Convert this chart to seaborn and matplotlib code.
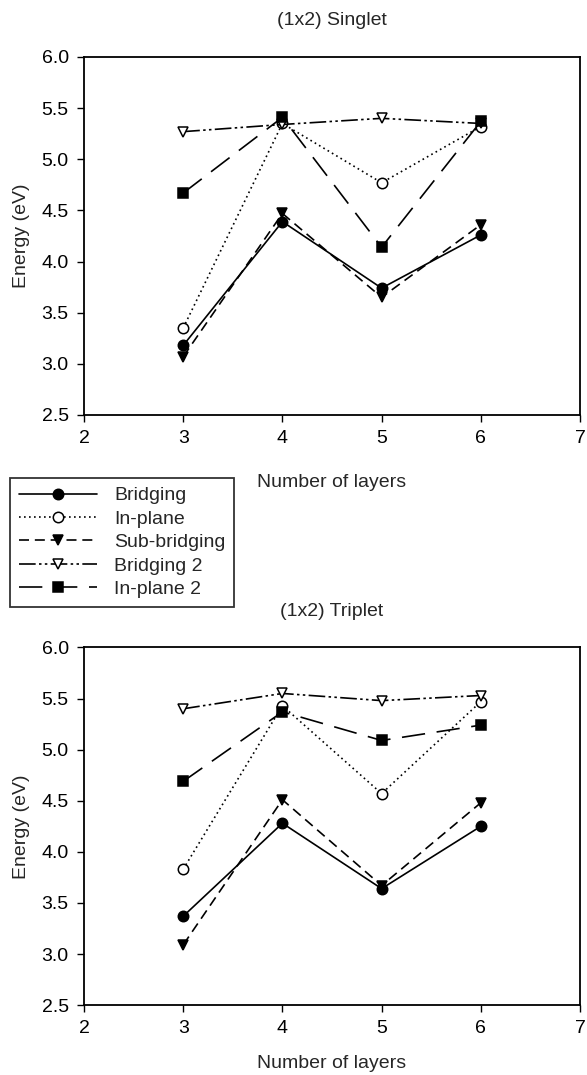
import numpy as np
import matplotlib
matplotlib.use("Agg")
import matplotlib.pyplot as plt
import seaborn as sns

layers = [3, 4, 5, 6]
series_names = ["Bridging", "In-plane", "Sub-bridging", "Bridging 2", "In-plane 2"]

# (1x2) Singlet energies (eV)
singlet_bridging = [3.18, 4.39, 3.74, 4.26]
singlet_inplane = [3.35, 5.35, 4.77, 5.32]
singlet_subbridging = [3.07, 4.47, 3.65, 4.36]
singlet_bridging2 = [5.27, 5.34, 5.40, 5.35]
singlet_inplane2 = [4.67, 5.41, 4.14, 5.37]

# (1x2) Triplet energies (eV)
triplet_bridging = [3.37, 4.28, 3.64, 4.25]
triplet_inplane = [3.83, 5.43, 4.57, 5.47]
triplet_subbridging = [3.09, 4.51, 3.67, 4.48]
triplet_bridging2 = [5.40, 5.55, 5.48, 5.53]
triplet_inplane2 = [4.69, 5.37, 5.09, 5.24]

sns.set_style("ticks")
plt.rcParams['font.family'] = ['Liberation Sans', 'DejaVu Sans']
FS = 14

# line style, marker, face colour for each series
styles = {
    "Bridging": ("-", "o", "black"),
    "In-plane": ((0, (1, 2)), "o", "white"),
    "Sub-bridging": ((0, (6, 3.5)), "v", "black"),
    "Bridging 2": ((0, (10, 2, 1.5, 2, 1.5, 2)), "v", "white"),
    "In-plane 2": ((0, (14, 7)), "s", "black"),
}

panels = [
    ("(1x2) Singlet", [singlet_bridging, singlet_inplane, singlet_subbridging,
                       singlet_bridging2, singlet_inplane2], -0.165),
    ("(1x2) Triplet", [triplet_bridging, triplet_inplane, triplet_subbridging,
                       triplet_bridging2, triplet_inplane2], -0.14),
]

fig = plt.figure(figsize=(5.87, 10.75), dpi=100)
ax_top = fig.add_axes([0.1431, 0.614, 0.845, 0.333])
ax_bot = fig.add_axes([0.1431, 0.065, 0.845, 0.3327])

for ax, (title, values, xlab_y) in zip([ax_top, ax_bot], panels):
    for name, yvals in zip(series_names, values):
        ls, mk, fc = styles[name]
        sns.lineplot(x=layers, y=yvals, ax=ax, color="black", linewidth=1.2,
                     linestyle=ls, marker=mk, markersize=7.5,
                     markerfacecolor=fc, markeredgecolor="black",
                     markeredgewidth=1.1, label=name, legend=False)
    ax.set_xlim(2, 7)
    ax.set_ylim(2.5, 6.0)
    ax.set_xticks([2, 3, 4, 5, 6, 7])
    ax.set_yticks(np.arange(2.5, 6.01, 0.5))
    ax.yaxis.set_major_formatter(matplotlib.ticker.FormatStrFormatter("%.1f"))
    ax.set_xlabel("Number of layers", fontsize=FS)
    ax.xaxis.set_label_coords(0.5, xlab_y)
    ax.set_ylabel("Energy (eV)", fontsize=FS, labelpad=8)
    ax.text(0.5, 1.0 + 36 / 357, title, transform=ax.transAxes,
            ha="center", va="center", fontsize=FS)
    ax.tick_params(direction="out", length=5, width=1, pad=6,
                   labelsize=FS, colors="black")
    for sp in ax.spines.values():
        sp.set_visible(True)
        sp.set_linewidth(1.3)
        sp.set_color("black")

handles, labels = ax_top.get_legend_handles_labels()
leg = fig.legend(handles, labels, loc="upper left",
                 bbox_to_anchor=(10 / 587, 1 - 478 / 1075),
                 frameon=True, fancybox=False, edgecolor="black", fontsize=FS,
                 handlelength=4.0, borderpad=0.45, labelspacing=0.3,
                 handletextpad=0.9, borderaxespad=0)
leg.get_frame().set_linewidth(1.3)

fig.savefig("out.png", dpi=100)
